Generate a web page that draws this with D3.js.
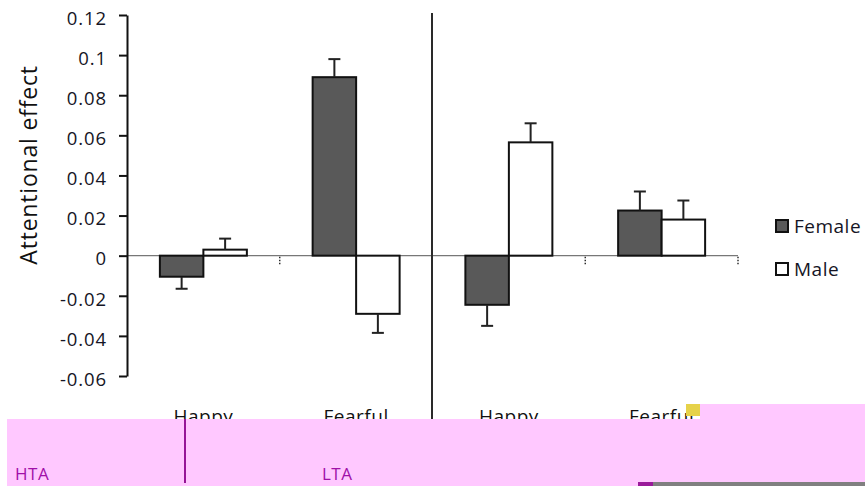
<!DOCTYPE html>
<html>
<head>
<meta charset="utf-8">
<script src="https://cdn.jsdelivr.net/npm/d3@7"></script>
<style>
  html, body { margin: 0; padding: 0; background: #fff; }
  svg { display: block; }
</style>
</head>
<body>
<svg id="chart" width="865" height="486"></svg>
<script>
// ---- data ----
const groups = ["HTA-Happy", "HTA-Fearful", "LTA-Happy", "LTA-Fearful"];
const groupLabels = ["Happy", "Fearful", "Happy", "Fearful"];
const seriesNames = ["Female", "Male"];
const female = [-0.0105, 0.089, -0.0245, 0.0225];
const femaleErr = [0.006, 0.009, 0.0105, 0.0095];
const male = [0.003, -0.029, 0.0565, 0.018];
const maleErr = [0.0055, 0.0095, 0.0095, 0.0095];
const yTicks = [-0.06, -0.04, -0.02, 0, 0.02, 0.04, 0.06, 0.08, 0.1, 0.12];
const anxietyLabels = ["HTA", "LTA"];

const svg = d3.select("#chart");
const font = "'Open Sans', sans-serif";

const x0 = d3.scaleBand().domain(groups).range([127, 738]).padding(0);
const x1 = d3.scaleBand().domain(seriesNames).range([0, x0.bandwidth()]).paddingInner(0).paddingOuter(0.756);
const y = d3.scaleLinear().domain([-0.06, 0.12]).range([376, 15]);

const colors = { Female: "#595959", Male: "#ffffff" };
const values = { Female: female, Male: male };
const errs = { Female: femaleErr, Male: maleErr };

// zero line
svg.append("line")
  .attr("x1", 127).attr("x2", 738)
  .attr("y1", y(0)).attr("y2", y(0))
  .attr("stroke", "#777").attr("stroke-width", 1.2);

// dotted category separators below zero line
[1, 3, 4].forEach(i => {
  const xx = i < 4 ? x0(groups[i]) : x0(groups[3]) + x0.bandwidth();
  svg.append("line")
    .attr("x1", xx).attr("x2", xx)
    .attr("y1", y(0) + 1).attr("y2", y(0) + 10)
    .attr("stroke", "#222").attr("stroke-width", 1.4)
    .attr("stroke-dasharray", "1.5,1.5");
});

// divider between HTA and LTA
svg.append("line")
  .attr("x1", x0(groups[2]) - 0.5).attr("x2", x0(groups[2]) - 0.5)
  .attr("y1", 13).attr("y2", 425)
  .attr("stroke", "#2a2a2a").attr("stroke-width", 2);

// bars
seriesNames.forEach(s => {
  groups.forEach((g, i) => {
    const v = values[s][i];
    const bx = x0(g) + x1(s);
    svg.append("rect")
      .attr("x", bx).attr("width", x1.bandwidth())
      .attr("y", Math.min(y(v), y(0)))
      .attr("height", Math.abs(y(v) - y(0)))
      .attr("fill", colors[s]).attr("stroke", "#111").attr("stroke-width", 2);
    const cx = bx + x1.bandwidth() / 2;
    const end = v >= 0 ? v + errs[s][i] : v - errs[s][i];
    svg.append("line")
      .attr("x1", cx).attr("x2", cx).attr("y1", y(v)).attr("y2", y(end))
      .attr("stroke", "#222").attr("stroke-width", 2);
    svg.append("line")
      .attr("x1", cx - 6).attr("x2", cx + 6).attr("y1", y(end)).attr("y2", y(end))
      .attr("stroke", "#222").attr("stroke-width", 2);
  });
});

// y axis
const yAxis = d3.axisLeft(y).tickValues(yTicks).tickSize(8).tickSizeOuter(0)
  .tickFormat(d => d === 0 ? "0" : String(+d.toFixed(2)));
const ga = svg.append("g").attr("transform", "translate(127,0)").call(yAxis);
ga.select(".domain").attr("stroke", "#111").attr("stroke-width", 2);
ga.selectAll(".tick line").attr("stroke", "#111").attr("stroke-width", 2);
ga.selectAll(".tick text")
  .attr("x", -20)
  .attr("dy", "0.5em")
  .attr("fill", "#151525")
  .style("font-family", font)
  .style("font-size", "18.5px")
  .style("letter-spacing", "0.9px");

// y axis title
svg.append("text")
  .attr("transform", "translate(37,165) rotate(-90)")
  .attr("text-anchor", "middle")
  .style("font-family", font)
  .style("font-size", "23px")
  .style("letter-spacing", "0.8px")
  .attr("fill", "#111")
  .text("Attentional effect");

// category labels
groups.forEach((g, i) => {
  svg.append("text")
    .attr("x", x0(g) + x0.bandwidth() / 2)
    .attr("y", 423)
    .attr("text-anchor", "middle")
    .style("font-family", font)
    .style("font-size", "19px")
    .style("letter-spacing", "0.5px")
    .attr("fill", "#111")
    .text(groupLabels[i]);
});

// legend
const leg = svg.append("g");
seriesNames.forEach((s, i) => {
  const ly = 220 + i * 43;
  leg.append("rect")
    .attr("x", 776).attr("y", ly).attr("width", 12).attr("height", 12)
    .attr("fill", colors[s]).attr("stroke", "#111").attr("stroke-width", 2);
  leg.append("text")
    .attr("x", 794).attr("y", ly + 13)
    .style("font-family", font)
    .style("font-size", "19px")
    .style("letter-spacing", "0.5px")
    .attr("fill", "#151525")
    .text(s);
});

// pink overlay band (as in picture)
svg.append("rect").attr("x", 7).attr("y", 419).attr("width", 858).attr("height", 67).attr("fill", "#ffc8ff");
svg.append("rect").attr("x", 700).attr("y", 404).attr("width", 165).attr("height", 16).attr("fill", "#ffc8ff");
svg.append("rect").attr("x", 686).attr("y", 404).attr("width", 14).attr("height", 12).attr("fill", "#e6d24a");
svg.append("line")
  .attr("x1", 185).attr("x2", 185).attr("y1", 419).attr("y2", 483)
  .attr("stroke", "#8b008b").attr("stroke-width", 1.8);
[[15, anxietyLabels[0]], [322, anxietyLabels[1]]].forEach(([xx, t]) => {
  svg.append("text").attr("x", xx).attr("y", 480)
    .style("font-family", font).style("font-size", "17px")
    .style("letter-spacing", "0.5px")
    .attr("fill", "#a010a8").text(t);
});
svg.append("rect").attr("x", 638).attr("y", 482).attr("width", 227).attr("height", 4).attr("fill", "#808080");
svg.append("rect").attr("x", 638).attr("y", 482).attr("width", 15).attr("height", 4).attr("fill", "#9a1a9a");
</script>
</body>
</html>
